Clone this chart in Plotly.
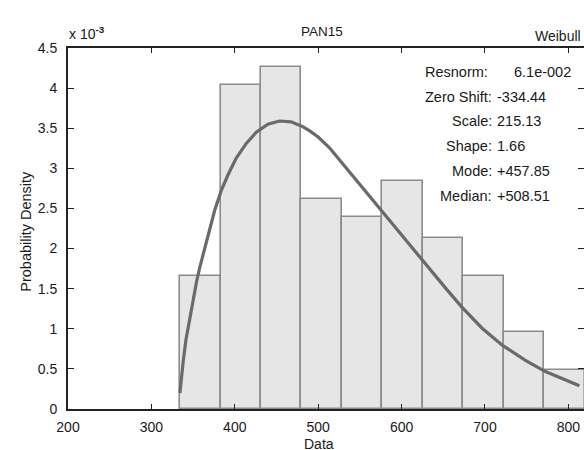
import plotly.graph_objects as go

# ---- data ----
bin_edges = [334.4, 382.9, 431.4, 479.9, 528.4, 576.9, 625.4, 673.9, 722.4, 770.9, 819.4]
bar_density_e3 = [1.66, 4.04, 4.26, 2.62, 2.39, 2.84, 2.13, 1.66, 0.96, 0.49]

curve_x = [334.2, 336.3, 338.2, 341.4, 344.2, 347.0, 350.1, 354.2, 358.1, 364.1, 370.0,
           376.0, 384.0, 391.9, 401.9, 413.8, 425.8, 439.6, 453.6, 467.5, 481.4, 489.4,
           500.0, 513.3, 537.1, 561.0, 584.8, 608.7, 632.6, 652.5, 672.3, 696.2,
           720.0, 748.0, 771.8, 795.7, 813.2]
curve_y_e3 = [0.20, 0.45, 0.60, 0.86, 1.03, 1.19, 1.36, 1.59, 1.77, 2.02, 2.25,
              2.48, 2.73, 2.92, 3.13, 3.31, 3.45, 3.55, 3.59, 3.58, 3.52, 3.47,
              3.39, 3.26, 2.96, 2.66, 2.36, 2.05, 1.76, 1.51, 1.27, 1.01,
              0.80, 0.61, 0.47, 0.36, 0.29]

x_ticks = [200, 300, 400, 500, 600, 700, 800]
y_ticks_e3 = [0, 0.5, 1, 1.5, 2, 2.5, 3, 3.5, 4, 4.5]
y_tick_text = ["0", "0.5", "1", "1.5", "2", "2.5", "3", "3.5", "4", "4.5"]

stat_labels = ["Resnorm:", "Zero Shift:", "Scale:", "Shape:", "Mode:", "Median:"]
stat_values = ["6.1e-002", "-334.44", "215.13", "1.66", "+457.85", "+508.51"]

title_text = "PAN15"
dist_name = "Weibull"
x_label = "Data"
y_label = "Probability Density"

# ---- derived ----
scale = 1e-3
centers = [(a + b) / 2 for a, b in zip(bin_edges[:-1], bin_edges[1:])]
widths = [b - a for a, b in zip(bin_edges[:-1], bin_edges[1:])]

FONT = "Liberation Sans, Arial, sans-serif"
TXT = "#1a1a1a"

fig = go.Figure()
fig.add_trace(go.Bar(
    x=centers, y=[v * scale for v in bar_density_e3], width=widths,
    marker=dict(color="#e6e6e6", line=dict(color="#8c8c8c", width=1.6)),
    showlegend=False, hoverinfo="skip"))
fig.add_trace(go.Scatter(
    x=curve_x, y=[v * scale for v in curve_y_e3], mode="lines",
    line=dict(color="#6a6a6a", width=3.2),
    showlegend=False, hoverinfo="skip"))

# figure slightly wider than the window so the right axis line falls just outside the view
W, H = 586, 450
L, R, T, B = 67.5, 0, 48, 41
pw = W - L - R
ph = H - T - B
x_max = 200 + (W - R - L) / 0.838

def px(xp):
    return (xp - L) / pw

def py(yp):
    return (H - B - yp) / ph

ann = []
ann.append(dict(x=px(323), y=py(31), text=title_text, xanchor="center", yanchor="middle",
                font=dict(size=13.5, color=TXT)))
ann.append(dict(x=px(585), y=py(36), text=dist_name, xanchor="right", yanchor="middle",
                font=dict(size=14, color=TXT)))
ann.append(dict(x=px(66), y=py(33), text="x 10<sup><b>-3</b></sup>", xanchor="left", yanchor="middle",
                font=dict(size=14, color=TXT)))
ann.append(dict(x=px(25), y=py(231), text=y_label, textangle=-90, xanchor="center", yanchor="middle",
                font=dict(size=14.5, color=TXT)))
ann.append(dict(x=px(320), y=py(444), text=x_label, xanchor="center", yanchor="middle",
                font=dict(size=14, color=TXT)))

rows = [71.5, 96.5, 121, 146, 171, 195.5]
for i, (lab, val) in enumerate(zip(stat_labels, stat_values)):
    if i == 0:
        lx, vx = 492, 514
    else:
        lx, vx = 496, 497
    ann.append(dict(x=px(lx), y=py(rows[i]), text=lab, xanchor="right", yanchor="middle",
                    font=dict(size=14.5, color=TXT)))
    ann.append(dict(x=px(vx), y=py(rows[i]), text=val, xanchor="left", yanchor="middle",
                    font=dict(size=14.5, color=TXT)))
for a in ann:
    a.update(xref="paper", yref="paper", showarrow=False)

fig.update_layout(
    width=W, height=H,
    margin=dict(l=L, r=R, t=T, b=B, pad=0),
    paper_bgcolor="white", plot_bgcolor="white",
    font=dict(family=FONT, size=14, color=TXT),
    bargap=0,
    annotations=ann,
    xaxis=dict(range=[200, x_max], tickvals=x_ticks, ticks="inside", ticklen=5,
               tickwidth=1.3, tickcolor="#222", showline=True, linecolor="#222",
               linewidth=1.8, mirror="ticks", showgrid=False, zeroline=False,
               ticklabelstandoff=4, tickfont=dict(size=14)),
    yaxis=dict(range=[0, 4.5 * scale], tickvals=[v * scale for v in y_ticks_e3],
               ticktext=y_tick_text, ticks="inside", ticklen=6, tickwidth=1.3,
               tickcolor="#222", showline=True, linecolor="#222", linewidth=1.8,
               mirror="ticks", showgrid=False, zeroline=False,
               ticklabelstandoff=6, tickfont=dict(size=14)),
)

fig.write_html(
    "out.html",
    config={"displayModeBar": False},
    post_script="document.body.style.margin='0';document.body.style.overflow='hidden';"
                "document.documentElement.style.overflow='hidden';",
)
